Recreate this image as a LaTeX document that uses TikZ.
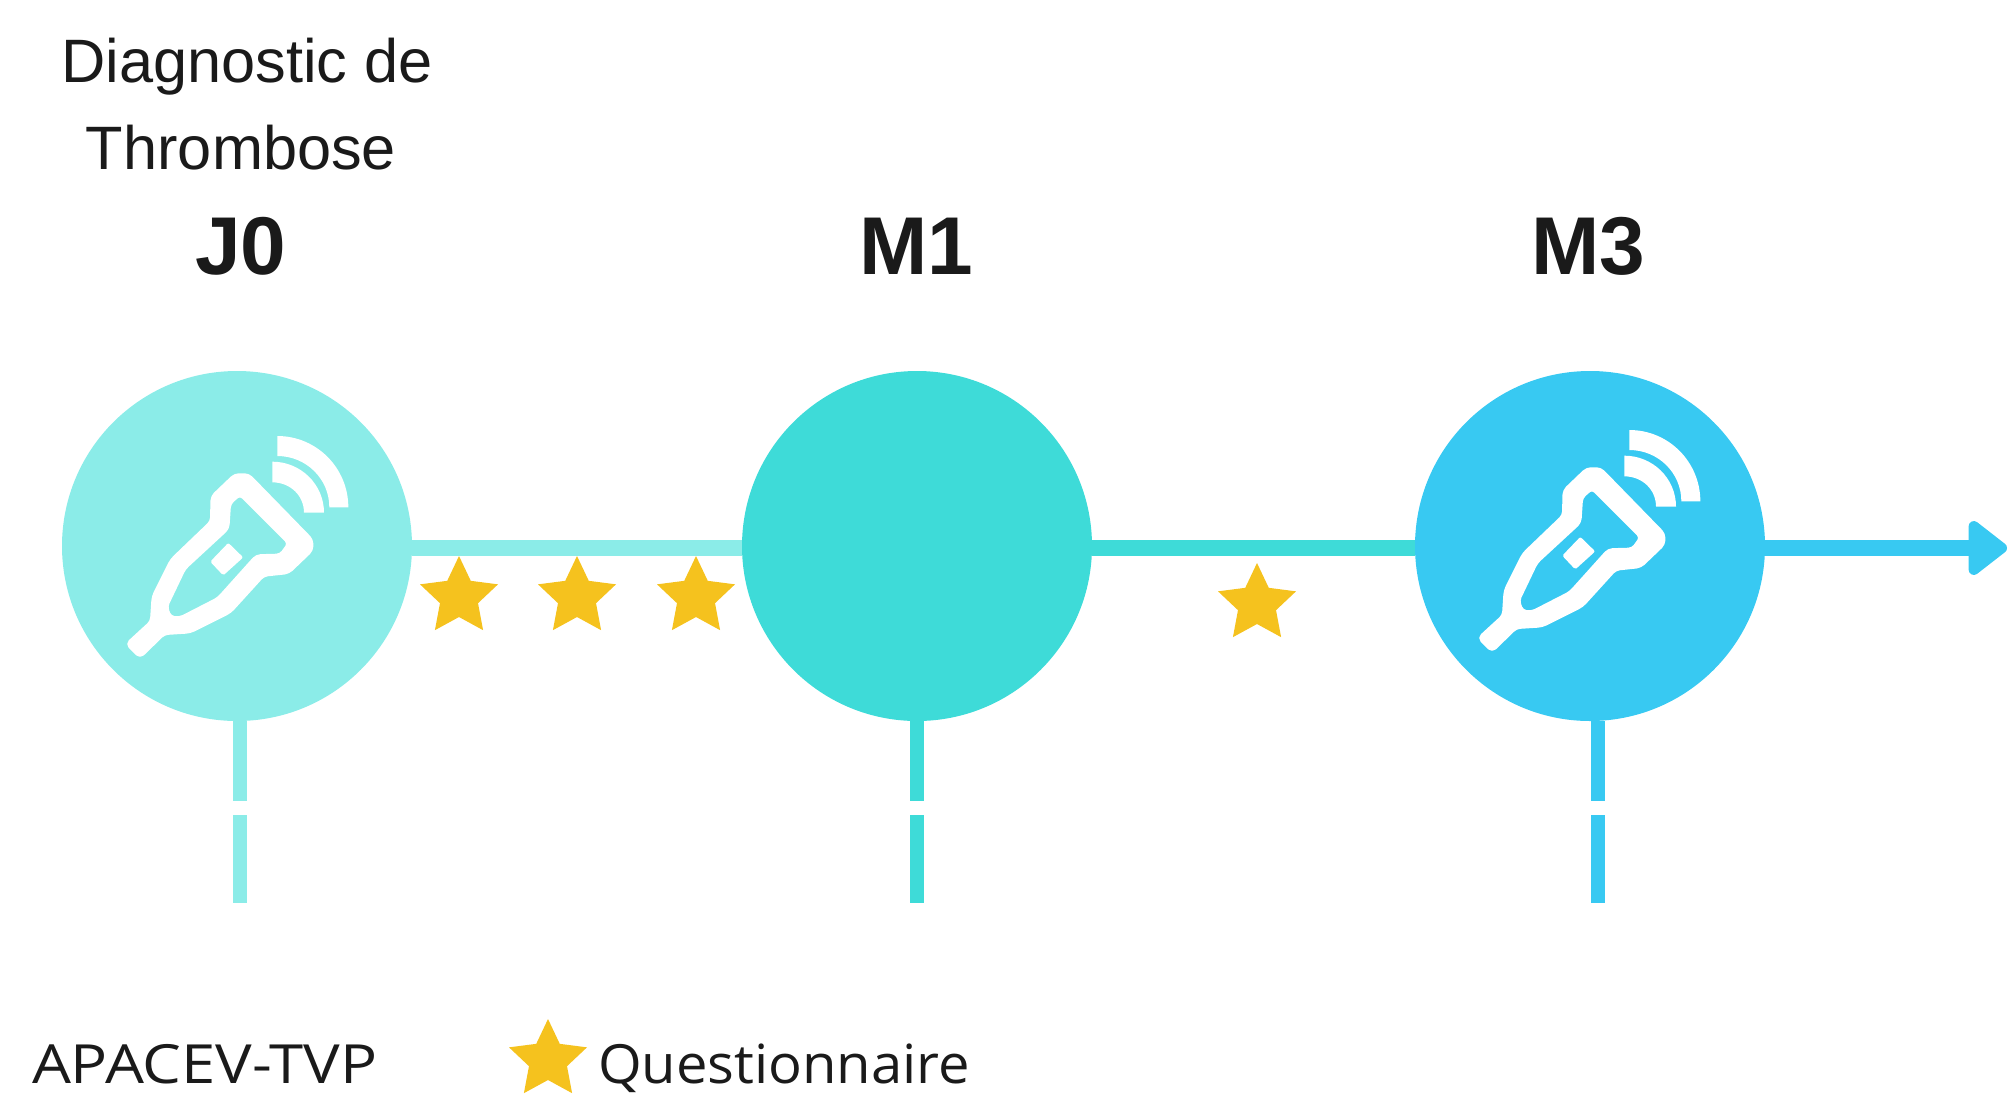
\documentclass[tikz,border=0pt]{standalone}
\usepackage{fontspec}
\setmainfont{Liberation Sans}
\newfontfamily\legendfont[FakeStretch=1.04]{Open Sans}
\newfontfamily\legendcaps[FakeStretch=1.14]{Open Sans}
\usetikzlibrary{shapes.geometric,arrows.meta}
\definecolor{cjzero}{HTML}{8BECE8}
\definecolor{cmone}{HTML}{3EDBD8}
\definecolor{cmthree}{HTML}{38C9F2}
\definecolor{cstar}{HTML}{F5C21E}
\definecolor{ctext}{HTML}{1A1A1A}
\tikzset{
  x=1pt,y=-1pt,
  visit/.style={circle,minimum size=350pt,inner sep=0pt,outer sep=0pt,fill=#1},
  linkline/.style={line width=16pt,draw=#1},
  stem/.style={line width=14pt,draw=#1,dash pattern=on 80pt off 14pt on 90pt},
  qstar/.style={star,star points=5,star point ratio=2.05,minimum size=82pt,inner sep=0pt,outer sep=0pt,fill=cstar},
  plain/.style={anchor=base,inner sep=0pt,outer sep=0pt,text=ctext,align=center},
  caption/.style={plain,font=\fontsize{61.3}{61.3}\selectfont},
  month/.style={plain,font=\fontsize{82}{82}\selectfont\bfseries},
  legend/.style={plain,anchor=base west,font=\fontsize{54}{54}\selectfont\legendfont},
  legendc/.style={plain,anchor=base west,font=\fontsize{54}{54}\selectfont\legendcaps},
  ink/.style={fill=white,draw=white,line width=3.5pt,line join=round},
  pics/probe/.style={code={
    \begin{scope}[x=0.33333pt,y=-0.33333pt,shift={(-591,-588)}]
      \path[ink,even odd rule,rounded corners=4pt]
        (262,882) -- (300,920) -- (372,850) -- (450,845) -- (570,785) -- (670,675) -- (745,667) -- (815,600) -- (815,570) -- (625,375) -- (585,375) -- (517,440) -- (515,515) -- (395,630) -- (340,740) -- (335,815) -- cycle
        (600,432) -- (748,580) -- (722,616) -- (650,618) -- (535,746) -- (420,805) -- (390,802) -- (378,770) -- (433,655) -- (563,535) -- (568,460) -- cycle;
      \path[ink] (565,586) -- (602,622) -- (550,669) -- (518,635) -- cycle;
      \fill[white] (712,258) .. controls (830,258) and (925,354) .. (925,472) -- (868,472) .. controls (868,386) and (798,318) .. (712,318) -- cycle;
      \fill[white] (697,335) .. controls (782,335) and (852,403) .. (852,488) -- (792,488) .. controls (792,436) and (750,397) .. (697,397) -- cycle;
    \end{scope}
  }}
}
\begin{document}
\begin{tikzpicture}
\useasboundingbox (0,0) rectangle (2009,1098);
% circles
\node[visit=cjzero] (j0) at (237,546) {};
\node[visit=cmone] (m1) at (917,546) {};
\node[visit=cmthree] (m3) at (1590,546) {};
% free ends
\coordinate (j0end) at (240,903);
\coordinate (m1end) at (917,903);
\coordinate (m3end) at (1598,903);
\coordinate (tip) at (2007,548);
% connectors
\draw[linkline=cjzero] ([yshift=-2pt]j0.east) -- ([yshift=-2pt]m1.west);
\draw[linkline=cmone] ([yshift=-2pt]m1.east) -- ([yshift=-2pt]m3.west);
\draw[linkline=cmthree,-{Triangle[length=42pt,width=62pt,round]}] ([yshift=-2pt]m3.east) -- (tip);
\draw[stem=cjzero] (j0end |- j0.south) -- (j0end);
\draw[stem=cmone] (m1.south) -- (m1end);
\draw[stem=cmthree] (m3end |- m3.south) -- (m3end);
% probes
\pic at (237,546) {probe};
\pic at (1589,540) {probe};
% stars
\node[qstar] (s1) at (459,597) {};
\node[qstar] (s2) at (577,597) {};
\node[qstar] (s3) at (696,597) {};
\node[qstar] (s4) at (1257,604) {};
\node[qstar] (s5) at (548,1060) {};
% texts
\node[caption] (t1) at (247,82) {Diagnostic de};
\node[caption] (t2) at (241,169) {Thrombose};
\node[month] (lj0) at (241,274) {J0};
\node[month] (lm1) at (916,274) {M1};
\node[month] (lm3) at (1588,274) {M3};
\node[legendc] (l1) at (32,1083) {APACEV-TVP};
\node[legend] (l2) at (598,1083) {Questionnaire};
\end{tikzpicture}
\end{document}
